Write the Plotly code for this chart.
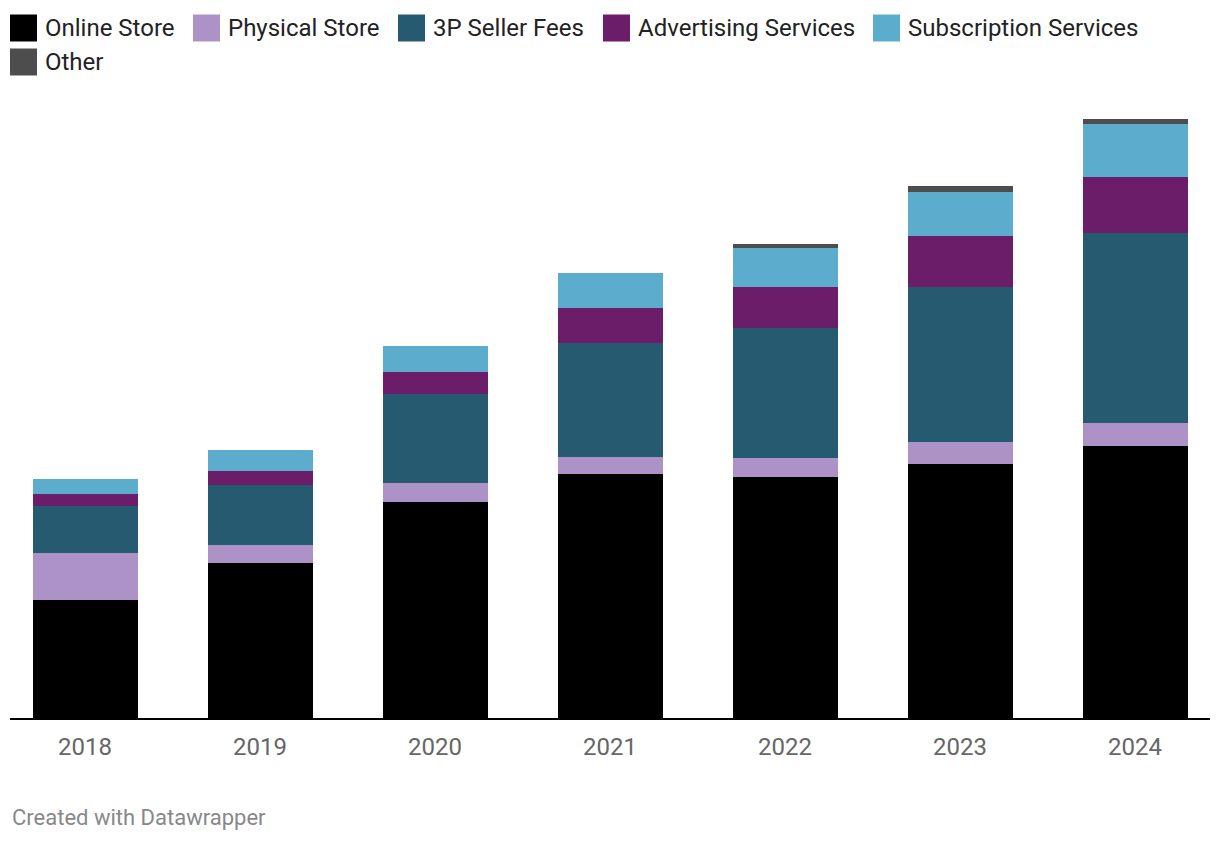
import plotly.graph_objects as go

years = ["2018", "2019", "2020", "2021", "2022", "2023", "2024"]
online_store = [118, 155, 216, 244, 241, 254, 272]
physical_store = [47, 18, 19, 17, 19, 22, 23]
seller_fees_3p = [47, 60, 89, 114, 130, 155, 190]
advertising = [12, 14, 22, 35, 41, 51, 56]
subscription = [15, 21, 26, 35, 39, 44, 53]
other = [0, 0, 0, 0, 4, 6, 5]

series_names = ["Online Store", "Physical Store", "3P Seller Fees",
                "Advertising Services", "Subscription Services", "Other"]
series_values = [online_store, physical_store, seller_fees_3p,
                 advertising, subscription, other]
colors = ["#000000", "#ad92c8", "#265a70", "#6b1d69", "#5cacce", "#4d4d4d"]

FONT = "Roboto"
fig = go.Figure()
xs = list(range(len(years)))
for name, vals, col in zip(series_names, series_values, colors):
    fig.add_trace(go.Bar(
        x=xs, y=vals, name=name, marker=dict(color=col, line=dict(width=0)),
        width=0.6, showlegend=False,
        hovertemplate=name + " %{x}: %{y}<extra></extra>"))

# custom legend (large square swatches like Datawrapper)
legend_x = [10, 193, 398, 603, 873, 10]   # pixel left of swatch (page coords)
legend_row = [0, 0, 0, 0, 0, 1]
W, H = 1220, 842
PL, PB, PW, PH = 10, 718, 1200, 618     # plot area in page coords
shapes = []
annotations = []
for name, col, lx, row in zip(series_names, colors, legend_x, legend_row):
    cy = 28 + row * 34
    shapes.append(dict(type="rect", xref="paper", yref="paper",
                       x0=(lx - PL) / PW, x1=(lx - PL + 27) / PW,
                       y0=(PB - (cy + 13.5)) / PH, y1=(PB - (cy - 13.5)) / PH,
                       fillcolor=col, line=dict(width=0), layer="above"))
    annotations.append(dict(text=name, xref="paper", yref="paper",
                            x=(lx - PL + 33) / PW, y=(PB - cy) / PH,
                            xanchor="left", yanchor="middle", showarrow=False,
                            font=dict(family=FONT, size=24, color="#222222")))

annotations.append(dict(text="Created with Datawrapper", xref="paper", yref="paper",
                        x=0, y=(PB - 817) / PH, xanchor="left", yanchor="middle",
                        showarrow=False,
                        font=dict(family=FONT, size=22, color="#888888")))

# page has an 8px body offset
fig.update_layout(
    barmode="stack",
    width=W, height=H,
    margin=dict(l=PL - 8, r=W - (PL + PW - 8), t=(PB - PH) - 8, b=H - (PB - 8)),
    paper_bgcolor="white", plot_bgcolor="white",
    shapes=shapes, annotations=annotations,
    font=dict(family=FONT),
    xaxis=dict(range=[-0.4286, 6.4286], tickvals=xs, ticktext=years,
               showgrid=False, zeroline=False, showline=True,
               linecolor="#000000", linewidth=2, ticks="",
               tickfont=dict(family=FONT, size=24, color="#666666"),
               ticklabelstandoff=6, fixedrange=True),
    yaxis=dict(range=[0, 618], visible=False, fixedrange=True),
)

fig.write_html("out.html")
